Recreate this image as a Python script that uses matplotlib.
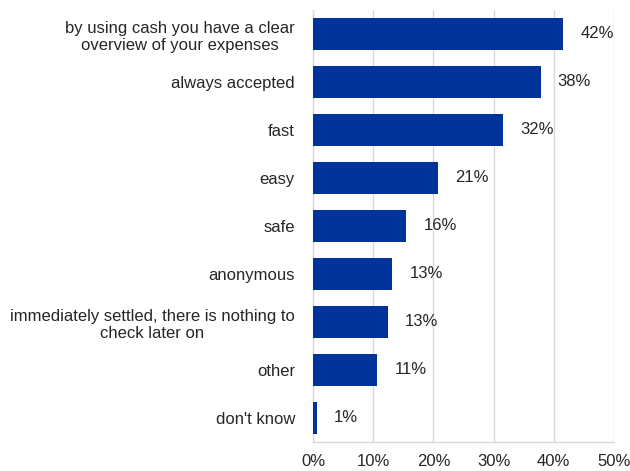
import matplotlib
matplotlib.use("Agg")
import matplotlib.pyplot as plt
from matplotlib.ticker import MultipleLocator, FuncFormatter

categories = [
    "by using cash you have a clear\noverview of your expenses",
    "always accepted",
    "fast",
    "easy",
    "safe",
    "anonymous",
    "immediately settled, there is nothing to\ncheck later on",
    "other",
    "don't know",
]
values = [41.6, 37.8, 31.6, 20.8, 15.5, 13.2, 12.4, 10.7, 0.6]
value_labels = ["42%", "38%", "32%", "21%", "16%", "13%", "13%", "11%", "1%"]

plt.rcParams['font.family'] = ['Liberation Sans', 'DejaVu Sans']

fig = plt.figure(figsize=(6.3, 4.71), dpi=100)
ax = fig.add_axes([313/630, 1 - 442/471, (614 - 313)/630, (442 - 10)/471])

bar_color = '#00339a'
text_color = '#262626'
pos = list(range(len(categories)))
ax.barh(pos, values, height=0.67, color=bar_color, zorder=3)

for p, v, lab in zip(pos, values, value_labels):
    ax.annotate(lab, xy=(v, p), xytext=(17, 0), textcoords='offset pixels',
                ha='left', va='center', fontsize=12, color=text_color)

ax.set_ylim(len(categories) - 0.5, -0.5)
ax.set_xlim(0, 50)
ax.set_yticks(pos)
ax.set_yticklabels(categories, fontsize=12, color=text_color, multialignment='center')
ax.xaxis.set_major_locator(MultipleLocator(10))
ax.xaxis.set_major_formatter(FuncFormatter(lambda x, _: f"{x:.0f}%"))
ax.tick_params(axis='x', labelsize=12, labelcolor=text_color, length=0, pad=9)
ax.tick_params(axis='y', length=0, pad=13)

ax.grid(axis='x', color='#d9d9d9', linewidth=1, zorder=0)
for s in ['top', 'right']:
    ax.spines[s].set_visible(False)
for s in ['left', 'bottom']:
    ax.spines[s].set_color('#d9d9d9')
    ax.spines[s].set_linewidth(1)

fig.savefig('out.png', dpi=100)
